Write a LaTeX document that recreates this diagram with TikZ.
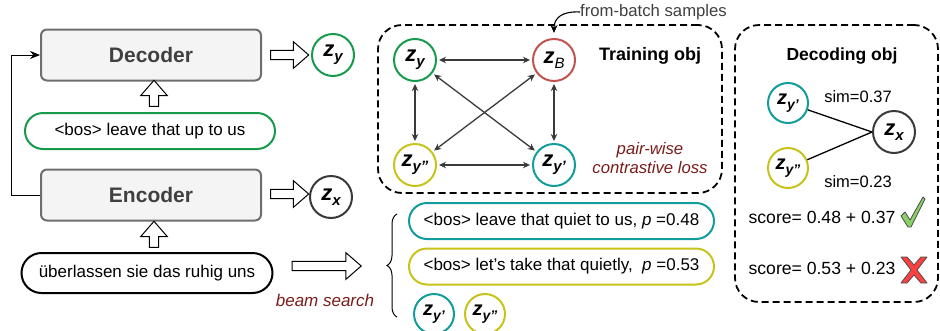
\documentclass[tikz,border=0pt]{standalone}
\usepackage{fontspec}
\setmainfont{Liberation Sans}
\usetikzlibrary{shapes.arrows,arrows.meta,decorations.pathreplacing,calc}
\definecolor{cgreen}{HTML}{179A4C}
\definecolor{cteal}{HTML}{139C9C}
\definecolor{cyel}{HTML}{C8C31A}
\definecolor{cred}{HTML}{C0534E}
\definecolor{cdark}{HTML}{3A3A3A}
\definecolor{dred}{HTML}{7A1B1B}
\definecolor{boxgray}{HTML}{6E6E6E}
\definecolor{boxfill}{HTML}{F4F4F4}
\newcommand\zz[1]{{\fontsize{22}{22}\selectfont\bfseries\itshape z\raisebox{-0.22em}{\fontsize{15}{15}\selectfont #1}}}
\newcommand\zsmall[1]{{\fontsize{20}{20}\selectfont\bfseries\itshape z\raisebox{-0.22em}{\fontsize{14}{14}\selectfont #1}}}
\begin{document}
\begin{tikzpicture}[x=1pt,y=-1pt,
  txt/.style={font=\fontsize{17}{17}\selectfont, inner sep=0pt},
  codec/.style={draw=boxgray, fill=boxfill, line width=2pt, rounded corners=6pt,
    minimum width=220pt, minimum height=51pt, font=\fontsize{21}{21}\selectfont\bfseries, text=black!75},
  pill/.style={draw, line width=2pt, rounded corners=18pt, minimum height=36pt, font=\fontsize{17}{17}\selectfont},
  zc/.style={circle, draw, line width=2pt, minimum size=42pt, inner sep=0pt},
  zcs/.style={circle, draw, line width=2pt, minimum size=40pt, inner sep=0pt},
  blk/.style={single arrow, draw, line width=1pt, fill=white, inner sep=0pt, inner ysep=4.2pt,
    minimum width=26pt, single arrow head extend=8.6pt, single arrow tip angle=82},
  dbl/.style={{Stealth[length=7pt,width=6.5pt]}-{Stealth[length=7pt,width=6.5pt]}, draw=cdark, line width=1.3pt, shorten <=2pt, shorten >=2pt},
  dashbox/.style={draw, line width=1.8pt, dash pattern=on 7pt off 4pt, rounded corners=24pt}
]
\useasboundingbox (0,0) rectangle (940,330);

% ---------- left column ----------
\node[codec] (dec) at (151,55) {Decoder};
\node[codec] (enc) at (151,195) {Encoder};
\node[pill, draw=cgreen, minimum width=250pt] (bos) at (150,131) {<bos> leave that up to us};
\node[pill, draw=black, minimum width=251pt, minimum height=40pt, rounded corners=20pt] (src) at (147,273) {überlassen sie das ruhig uns};

\node[blk, rotate=90, minimum height=26pt] (ua1) at (154,96) {};
\node[blk, rotate=90, minimum height=26pt] (ua2) at (154,237) {};

\coordinate (fb1) at (11,195);
\coordinate (fb2) at (11,55);
\draw[line width=1pt, -{Stealth[length=10pt,width=8pt]}] (enc.west) -- (fb1) -- (fb2) -- (dec.west);

\node[zc, draw=cgreen] (zy) at (333,55) {\zz{y}};
\node[zc, draw=cdark] (zx) at (331,197) {\zz{x}};
\node[blk, minimum height=38pt] (ra1) at (287,55) {};
\node[blk, minimum height=38pt] (ra2) at (287,194) {};

% ---------- training objective ----------
\node[dashbox, minimum width=344pt, minimum height=168pt] (tbox) at (550,109) {};
\node[zc, draw=cgreen] (gy) at (415,60) {\zz{y}};
\node[zc, draw=cred] (gB) at (554,60) {\zz{\mdseries B}};
\node[zc, draw=cyel] (gy2) at (415,165) {\zz{y''}};
\node[zc, draw=cteal] (gy1) at (554,165) {\zz{y'}};
\draw[dbl] (gy) -- (gB);
\draw[dbl] (gy2) -- (gy1);
\draw[dbl] (gy) -- (gy2);
\draw[dbl] (gB) -- (gy1);
\draw[dbl] (gy) -- (gy1);
\draw[dbl] (gB) -- (gy2);
\node[font=\fontsize{18}{18}\selectfont\bfseries, inner sep=0pt] (tlab) at (650,56) {Training obj};
\node[font=\fontsize{16.7}{20}\selectfont\itshape, text=dred, align=center, inner sep=0pt] (pw) at (650,158) {pair-wise\\[-1pt]contrastive loss};
\node[font=\fontsize{16.7}{16.7}\selectfont, text=black!75, inner sep=0pt, anchor=west] (fbs) at (580,12) {from-batch samples};
\draw[line width=1.1pt, -{Stealth[length=8pt,width=7pt]}] (fbs.west) .. controls (562,11) and (554,18) .. ($(gB.north)+(0,-5)$);

% ---------- decoding objective ----------
\node[dashbox, minimum width=203pt, minimum height=277pt] (dbox) at (836.5,163.5) {};
\node[font=\fontsize{17.5}{17.5}\selectfont\bfseries, inner sep=0pt] (dlab) at (842,56) {Decoding obj};
\node[zcs, draw=cteal] (dy1) at (788,103) {\zsmall{y'}};
\node[zcs, draw=cyel] (dy2) at (788,168) {\zsmall{y''}};
\node[zc, draw=cdark] (dx) at (894,132) {\zz{x}};
\draw[line width=1.3pt] (dy1) -- (dx.west);
\draw[line width=1.3pt] (dy2) -- (dx.west);
\node[txt, font=\fontsize{16.5}{16.5}\selectfont] (s1) at (858,97) {sim=0.37};
\node[txt, font=\fontsize{16.5}{16.5}\selectfont] (s2) at (858,182) {sim=0.23};
\node[txt, font=\fontsize{17.6}{17.6}\selectfont] (sc1) at (822,217) {score= 0.48 + 0.37};
\node[txt, font=\fontsize{17.6}{17.6}\selectfont] (sc2) at (822,268) {score= 0.53 + 0.23};
% check mark
\coordinate (ck) at (913,212);
\filldraw[draw=black!70, fill=green!55!lime!70!black!60!white, line width=0.8pt, line join=round]
  ($(ck)+(-12,4)$) -- ($(ck)+(-8,0)$) -- ($(ck)+(-3,8)$) -- ($(ck)+(10,-15)$) -- ($(ck)+(12,-13)$) -- ($(ck)+(-2,15)$) -- ($(ck)+(-5,15)$) -- cycle;
% cross
\coordinate (cx) at (914,270);
\filldraw[draw=black!70, fill=red!75!white, line width=0.8pt, line join=round]
  ($(cx)+(-13,-13)$) -- ($(cx)+(-7,-13)$) -- ($(cx)+(0,-5)$) -- ($(cx)+(7,-13)$) -- ($(cx)+(13,-13)$) -- ($(cx)+(3,0)$)
  -- ($(cx)+(13,13)$) -- ($(cx)+(7,13)$) -- ($(cx)+(0,5)$) -- ($(cx)+(-7,13)$) -- ($(cx)+(-13,13)$) -- ($(cx)+(-3,0)$) -- cycle;

% ---------- beam search ----------
\node[blk, minimum height=69pt, minimum width=24pt] (ba) at (324,266) {};
\node[font=\fontsize{17}{17}\selectfont\itshape, text=dred, inner sep=0pt] (bl) at (325,300) {beam search};
\coordinate (br1) at (397,317);
\coordinate (br2) at (397,214);
\draw[line width=1pt, decorate, decoration={brace, amplitude=10pt}] (br1) -- (br2);
\node[pill, draw=cteal, minimum width=305pt] (c1) at (561.5,221) {<bos> leave that quiet to us, \textit{p} =0.48};
\node[pill, draw=cyel, minimum width=305pt] (c2) at (561.5,266.5) {<bos> let's take that quietly, \ \textit{p} =0.53};
\node[zcs, draw=cteal] (by1) at (434,314) {\zsmall{y'}};
\node[zcs, draw=cyel] (by2) at (485,314) {\zsmall{y''}};
\end{tikzpicture}
\end{document}
